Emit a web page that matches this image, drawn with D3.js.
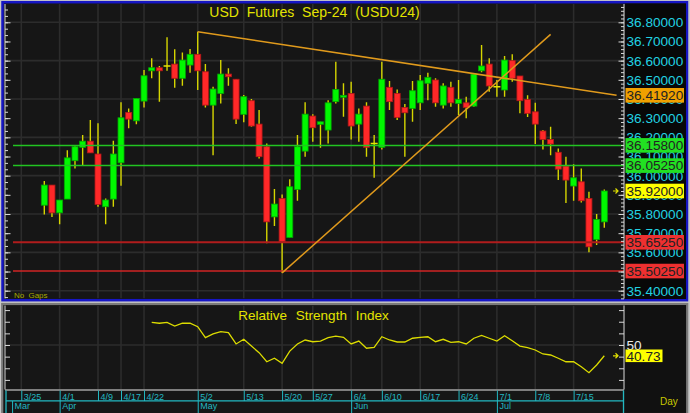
<!DOCTYPE html>
<html><head><meta charset="utf-8">
<script src="https://cdn.jsdelivr.net/npm/d3@7"></script>
<style>
html,body{margin:0;padding:0;background:#c8c8c8;overflow:hidden;}
svg{display:block;}
</style></head><body>
<svg id="chart" width="690" height="413"></svg>
<script>
// ---------- DATA ----------
const openP = [35.846,35.951,35.806,35.878,36.078,36.148,36.180,36.113,35.838,35.878,
36.067,36.330,36.286,36.389,36.547,36.563,36.572,36.582,36.508,36.577,
36.633,36.542,36.368,36.429,36.530,36.503,36.320,36.391,36.269,36.151,
35.785,35.881,35.678,35.928,36.128,36.311,36.268,36.238,36.386,36.409,
36.429,36.269,36.363,36.168,36.148,36.461,36.429,36.356,36.351,36.380,
36.482,36.499,36.368,36.461,36.377,36.380,36.363,36.547,36.582,36.464,
36.447,36.600,36.520,36.398,36.333,36.233,36.189,36.122,36.050,35.946,
35.968,35.881,35.667,35.759];
const highP = [35.972,35.951,35.873,36.133,36.158,36.212,36.290,36.273,35.881,36.182,
36.383,36.351,36.403,36.551,36.612,36.572,36.722,36.659,36.643,36.661,
36.751,36.582,36.464,36.603,36.560,36.503,36.421,36.400,36.342,36.168,
35.930,35.902,35.981,36.212,36.383,36.321,36.281,36.394,36.594,36.482,
36.490,36.351,36.383,36.212,36.594,36.494,36.450,36.374,36.494,36.525,
36.537,36.508,36.482,36.490,36.499,36.412,36.534,36.682,36.612,36.499,
36.624,36.633,36.520,36.420,36.380,36.238,36.255,36.142,36.099,36.060,
36.038,35.916,35.800,35.928];
const lowP = [35.798,35.785,35.747,35.878,36.038,36.055,36.119,35.838,35.747,35.838,
35.947,36.247,36.268,36.356,36.508,36.386,36.547,36.459,36.469,36.537,
36.447,36.356,36.107,36.377,36.469,36.269,36.278,36.255,36.090,35.647,
35.737,35.493,35.678,35.869,36.099,36.177,36.146,36.168,36.377,36.307,
36.189,36.177,36.099,35.989,36.137,36.342,36.290,36.099,36.281,36.342,
36.394,36.360,36.351,36.360,36.316,36.299,36.360,36.540,36.438,36.412,
36.412,36.490,36.325,36.306,36.165,36.137,36.107,35.977,35.858,35.869,
35.860,35.600,35.638,35.728];
const closeP = [35.951,35.806,35.873,36.093,36.151,36.180,36.119,35.850,35.873,36.113,
36.302,36.295,36.403,36.521,36.563,36.547,36.572,36.508,36.603,36.633,
36.547,36.368,36.452,36.530,36.516,36.295,36.412,36.259,36.099,35.759,
35.852,35.655,35.942,36.151,36.321,36.250,36.281,36.380,36.450,36.419,
36.259,36.321,36.148,36.168,36.503,36.386,36.304,36.328,36.443,36.495,
36.513,36.380,36.468,36.380,36.398,36.356,36.530,36.572,36.468,36.464,
36.603,36.508,36.391,36.325,36.269,36.189,36.165,36.034,35.977,35.989,
35.869,35.629,35.772,35.920];

const rsiStart = 14;
const rsiValues = [69.5,68.7,69.5,66.3,68.7,68.7,65.7,56.3,59.5,61.5,
60.6,50.9,54.9,49.1,43.4,35.6,38.6,34.3,44.8,50.9,
54.3,52.8,53.4,56.3,57.7,56.6,50.9,53.4,47.2,48.0,
57.1,54.3,52.6,52.6,55.8,56.6,57.1,52.8,54.9,52.3,
52.8,50.9,55.8,58.3,55.8,53.4,58.0,53.7,49.1,47.7,
45.7,42.3,41.4,38.6,35.6,35.6,31.3,26.2,32.8,40.73];

const xTickIdx = [-3,2,7,10,13,20,26,31,35,40,44,49,54,59,64,69];
const xTickLabels = ["3/25","4/1","4/9","4/17","4/22","5/2","5/13","5/20","5/27","6/4","6/10","6/17","6/24","7/1","7/8","7/15"];
const monthIdx = [-4.2,2,20,40,59];
const monthLabels = ["Mar","Apr","May","Jun","Jul"];

const priceTicks = [35.4,35.5,35.6,35.7,35.8,35.9,36.0,36.1,36.2,36.3,36.4,36.5,36.6,36.7,36.8];
const priceGrid = [35.4,35.6,35.8,36.0,36.2,36.4,36.6,36.8];
const rsiTicks = [20,30,40,50,60,70,80];

const levelValues = [36.158, 36.0525, 35.6525, 35.5025];
const trendLines = [
  [[20, 36.751], [74.6, 36.4192]],
  [[31, 35.493], [66, 36.737]]
];
const trendLabel = 36.4192;
const lastPrice = 35.92;
const lastRsi = 40.73;

const titleText = "USD Futures Sep-24 (USDU24)";
const rsiTitle = "Relative Strength Index";

// ---------- STYLES ----------
const levelStyle = [
  {line:"#22c422", w:1.5, box:"#22e022"},
  {line:"#22c422", w:1.5, box:"#22e022"},
  {line:"#b01c1c", w:2,   box:"#ee3030"},
  {line:"#d02424", w:1.5, box:"#ee3030"}
];
const FONT = "'Liberation Sans', Arial, sans-serif";
const NARROW = "'Liberation Sans Narrow', 'Liberation Sans', Arial, sans-serif";

// ---------- LAYOUT ----------
const W = 690, H = 413;
const plotL = 5, plotR = 624;
const mainT = 4, mainB = 298.5;
const rsiT = 305.5, rsiB = 389.5;

const svg = d3.select("#chart");

const x = d3.scaleLinear().domain([0, 73]).range([44.3, 604.3]);
const y = d3.scaleLinear().domain([35.4, 36.8]).range([290.7, 22.3]);
const yR = d3.scaleLinear().domain([20, 80]).range([379.9, 310.1]);

// backgrounds
svg.append("rect").attr("width", W).attr("height", H).attr("fill", "#c8c8c8");
svg.append("rect").attr("x", 2.5).attr("y", 2.2).attr("width", 684.5).attr("height", 298)
  .attr("fill", "#161616").attr("stroke", "#1616c4").attr("stroke-width", 2.5);
svg.append("rect").attr("x", plotR + 1).attr("y", 3.5).attr("width", 61).attr("height", 295.5).attr("fill", "#080808");
svg.append("rect").attr("x", 2.2).attr("y", 304).attr("width", 685).attr("height", 112)
  .attr("fill", "#161616").attr("stroke", "#7a7a7a").attr("stroke-width", 2.2);
svg.append("rect").attr("x", plotR + 1).attr("y", 305.2).attr("width", 61).attr("height", 107).attr("fill", "#111111");

const defs = svg.append("defs");
defs.append("clipPath").attr("id", "clipMain").append("rect")
  .attr("x", plotL).attr("y", mainT).attr("width", plotR - plotL).attr("height", mainB - mainT);
defs.append("clipPath").attr("id", "clipRsi").append("rect")
  .attr("x", plotL).attr("y", rsiT).attr("width", plotR - plotL).attr("height", rsiB - rsiT);

// grid main
const gridC = "#2c2c2c";
const gMain = svg.append("g").attr("clip-path", "url(#clipMain)");
gMain.selectAll(".hg").data(priceGrid).join("line")
  .attr("x1", plotL).attr("x2", plotR).attr("y1", d => y(d)).attr("y2", d => y(d))
  .attr("stroke", gridC).attr("stroke-width", 1.6);
gMain.selectAll(".vg").data(xTickIdx).join("line")
  .attr("x1", d => x(d)).attr("x2", d => x(d)).attr("y1", mainT).attr("y2", mainB)
  .attr("stroke", gridC).attr("stroke-width", 1.6);

// grid rsi
const gRsi = svg.append("g").attr("clip-path", "url(#clipRsi)");
gRsi.selectAll(".vg").data(xTickIdx).join("line")
  .attr("x1", d => x(d)).attr("x2", d => x(d)).attr("y1", rsiT).attr("y2", rsiB)
  .attr("stroke", gridC).attr("stroke-width", 1.6);
gRsi.append("line").attr("x1", plotL).attr("x2", plotR).attr("y1", yR(50)).attr("y2", yR(50))
  .attr("stroke", gridC).attr("stroke-width", 1.6);

// candles
const idx = d3.range(openP.length);
const cg = gMain.append("g");
cg.selectAll(".wick").data(idx).join("line")
  .attr("x1", i => x(i)).attr("x2", i => x(i))
  .attr("y1", i => y(highP[i])).attr("y2", i => y(lowP[i]))
  .attr("stroke", "#d6d600").attr("stroke-width", 1.4);
cg.selectAll(".body").data(idx.filter(i => openP[i] !== closeP[i])).join("rect")
  .attr("x", i => x(i) - 3).attr("width", 6)
  .attr("y", i => y(Math.max(openP[i], closeP[i])))
  .attr("height", i => Math.max(1, Math.abs(y(openP[i]) - y(closeP[i]))))
  .attr("fill", i => closeP[i] > openP[i] ? "#00f800" : "#ff2828")
  .attr("stroke", i => closeP[i] > openP[i] ? "#00a800" : "#b01818")
  .attr("stroke-width", 0.8);
cg.selectAll(".cross").data(idx.filter(i => openP[i] === closeP[i])).join("line")
  .attr("x1", i => x(i) - 3.5).attr("x2", i => x(i) + 3.5)
  .attr("y1", i => y(openP[i])).attr("y2", i => y(openP[i]))
  .attr("stroke", "#e6e600").attr("stroke-width", 1.4);

// level lines
gMain.selectAll(".lvl").data(levelValues).join("line")
  .attr("x1", 13).attr("x2", plotR)
  .attr("y1", d => y(d)).attr("y2", d => y(d))
  .attr("stroke", (d, i) => levelStyle[i].line).attr("stroke-width", (d, i) => levelStyle[i].w);

// trend lines
gMain.selectAll(".trend").data(trendLines).join("line")
  .attr("x1", d => x(d[0][0])).attr("y1", d => y(d[0][1]))
  .attr("x2", d => x(d[1][0])).attr("y2", d => y(d[1][1]))
  .attr("stroke", "#e09a1c").attr("stroke-width", 1.5);

// RSI line
gRsi.append("path").datum(rsiValues)
  .attr("d", d3.line().x((d, i) => x(rsiStart + i)).y(d => yR(d)))
  .attr("fill", "none").attr("stroke", "#dcdc00").attr("stroke-width", 1.3);

// ---------- AXES ----------
function styleAxis(g, col) {
  g.select(".domain").remove();
  g.selectAll(".tick line").attr("stroke", col);
}
const axisCol = "#d8d8d8";
// main right axis
const minorP = d3.range(0, 77).map(k => +(35.36 + k * 0.02).toFixed(2));
const gRm = svg.append("g").attr("transform", `translate(${plotR},0)`)
  .call(d3.axisRight(y).tickValues(minorP).tickSizeInner(-3).tickSizeOuter(0).tickFormat(""));
styleAxis(gRm, axisCol);
const gR = svg.append("g").attr("transform", `translate(${plotR},0)`)
  .call(d3.axisRight(y).tickValues(priceTicks).tickSizeInner(-5.5).tickSizeOuter(0).tickPadding(2.5)
    .tickFormat(d3.format(".5f")));
styleAxis(gR, axisCol);
gR.selectAll("text").attr("fill", "#22d2e2").attr("font-size", 13.6).attr("font-family", FONT);
svg.append("line").attr("x1", plotR).attr("x2", plotR).attr("y1", mainT).attr("y2", mainB)
  .attr("stroke", axisCol).attr("stroke-width", 1);

// main left axis
const minorL = d3.range(0, 46).map(k => 35.3667 + k * 0.1 / 3);
const gLm = svg.append("g").attr("transform", `translate(${plotL},0)`)
  .call(d3.axisLeft(y).tickValues(minorL).tickSizeInner(-3).tickSizeOuter(0).tickFormat(""));
styleAxis(gLm, axisCol);
gLm.selectAll(".tick").filter(d => d < 35.36 || d > 36.89).remove();
const gL = svg.append("g").attr("transform", `translate(${plotL},0)`)
  .call(d3.axisLeft(y).tickValues(priceTicks).tickSizeInner(-5.5).tickSizeOuter(0).tickFormat(""));
styleAxis(gL, axisCol);
svg.append("line").attr("x1", plotL).attr("x2", plotL).attr("y1", mainT).attr("y2", mainB)
  .attr("stroke", axisCol).attr("stroke-width", 1);

// rsi axes
const gRr = svg.append("g").attr("transform", `translate(${plotR},0)`)
  .call(d3.axisRight(yR).tickValues(rsiTicks).tickSizeInner(-5).tickSizeOuter(0).tickPadding(2.5)
    .tickFormat(d => d === 50 ? "50" : ""));
styleAxis(gRr, axisCol);
gRr.selectAll("text").attr("fill", "#e8e8e8").attr("font-size", 13.6).attr("font-family", FONT);
const gRl = svg.append("g").attr("transform", `translate(${plotL},0)`)
  .call(d3.axisLeft(yR).tickValues(rsiTicks).tickSizeInner(-5).tickSizeOuter(0).tickFormat(""));
styleAxis(gRl, axisCol);
svg.append("line").attr("x1", plotR).attr("x2", plotR).attr("y1", rsiT).attr("y2", rsiB).attr("stroke", axisCol);
svg.append("line").attr("x1", plotL).attr("x2", plotL).attr("y1", rsiT).attr("y2", rsiB).attr("stroke", axisCol);
svg.append("line").attr("x1", plotL).attr("x2", plotR).attr("y1", rsiB + 0.5).attr("y2", rsiB + 0.5)
  .attr("stroke", "#e8e8e8").attr("stroke-width", 1.2);

// date axis
const dateCol = "#22b8c2";
const gX = svg.append("g").attr("transform", `translate(0,${rsiB + 1})`)
  .call(d3.axisBottom(x).tickValues(xTickIdx).tickFormat((d, i) => xTickLabels[i]).tickSizeInner(10.5).tickSizeOuter(0));
styleAxis(gX, dateCol);
gX.selectAll("text").attr("fill", dateCol).attr("font-size", 9).attr("font-family", NARROW)
  .attr("text-anchor", "start").attr("x", 2).attr("y", 3.2).attr("dy", "0.71em");
svg.append("line").attr("x1", plotL + 1).attr("x2", plotR - 1).attr("y1", 400.8).attr("y2", 400.8)
  .attr("stroke", dateCol).attr("stroke-width", 1.3);
const gM = svg.append("g").attr("transform", "translate(0,401)")
  .call(d3.axisBottom(x).tickValues(monthIdx).tickFormat((d, i) => monthLabels[i]).tickSizeInner(12).tickSizeOuter(0));
styleAxis(gM, dateCol);
gM.selectAll("text").attr("fill", dateCol).attr("font-size", 9).attr("font-family", NARROW)
  .attr("text-anchor", "start").attr("x", 2).attr("y", 2).attr("dy", "0.71em");
svg.append("line").attr("x1", plotR - 0.5).attr("x2", plotR - 0.5).attr("y1", rsiB + 1).attr("y2", H)
  .attr("stroke", dateCol).attr("stroke-width", 1.3);
svg.append("line").attr("x1", plotL + 1).attr("x2", plotL + 1).attr("y1", rsiB + 1).attr("y2", H)
  .attr("stroke", dateCol).attr("stroke-width", 1.3);

// ---------- LABEL BOXES ----------
const boxes = [
  {v: trendLabel, fill: "#f0a000", s: y},
  ...levelValues.map((v, i) => ({v, fill: levelStyle[i].box, s: y})),
  {v: lastPrice, fill: "#ffff00", s: y}
];
const bx = svg.append("g");
boxes.forEach(b => {
  const cy = b.s(b.v);
  bx.append("rect").attr("x", plotR + 1.5).attr("y", cy - 7.3).attr("width", 58.5).attr("height", 14.6).attr("fill", b.fill);
  bx.append("text").attr("x", plotR + 2.5).attr("y", cy).attr("dy", "0.35em")
    .attr("font-family", FONT).attr("font-size", 13.6).attr("fill", "#222")
    .text(d3.format(".5f")(b.v));
});
// RSI value box
const rcy = yR(lastRsi);
bx.append("rect").attr("x", plotR + 1.5).attr("y", rcy - 6.3).attr("width", 37).attr("height", 12.6).attr("fill", "#ffff00");
bx.append("text").attr("x", plotR + 2.5).attr("y", rcy).attr("dy", "0.35em")
  .attr("font-family", FONT).attr("font-size", 13.6).attr("fill", "#222").text(d3.format(".2f")(lastRsi));

// arrows
function arrow(cy) {
  svg.append("path").attr("d", `M${plotR - 11},${cy} L${plotR - 6},${cy} M${plotR - 8.5},${cy - 2.5} L${plotR - 6},${cy} L${plotR - 8.5},${cy + 2.5}`)
    .attr("fill", "none").attr("stroke", "#e0e000").attr("stroke-width", 1.2);
}
arrow(y(lastPrice));
arrow(rcy);

// ---------- TEXTS ----------
svg.append("text").attr("x", (plotL + plotR) / 2).attr("y", 17).attr("text-anchor", "middle")
  .attr("font-family", FONT).attr("font-size", 14).attr("word-spacing", 4).attr("fill", "#e4e400")
  .text(titleText);
svg.append("text").attr("x", (plotL + plotR) / 2 - 1).attr("y", 320).attr("text-anchor", "middle")
  .attr("font-family", FONT).attr("font-size", 13.5).attr("word-spacing", 5).attr("fill", "#e4e400")
  .text(rsiTitle);
svg.append("text").attr("x", 14).attr("y", 298).attr("font-family", FONT).attr("font-size", 8)
  .attr("word-spacing", 2).attr("fill", "#a8a800").text("No Gaps");
svg.append("text").attr("x", 660).attr("y", 404.5).attr("font-family", FONT).attr("font-size", 10)
  .attr("fill", "#c8c800").text("Day");
</script>
</body></html>
